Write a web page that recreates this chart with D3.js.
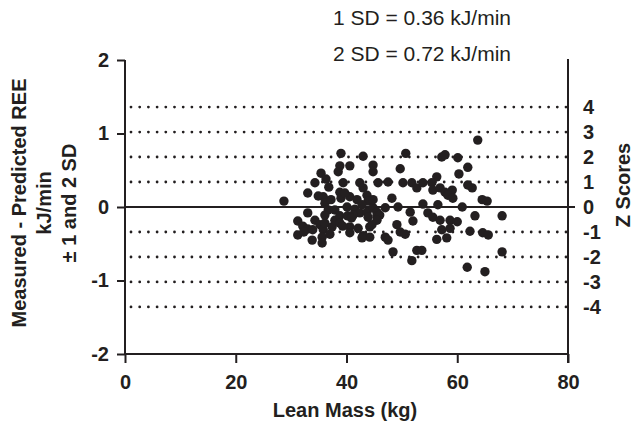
<!DOCTYPE html>
<html lang="en">
<head>
<meta charset="utf-8">
<style>
  body { margin: 0; background: #fff; }
  svg text { font-family: "Liberation Sans", Arial, Helvetica, sans-serif; fill: #231f20; }
  .axis path, .axis line { stroke: #231f20; stroke-width: 2px; }
  .axis text { font-size: 20px; font-weight: bold; fill: #231f20; font-family: "Liberation Sans", Arial, sans-serif; }
</style>
</head>
<body>
<svg width="633" height="422"></svg>
<script src="https://cdn.jsdelivr.net/npm/d3@7"></script>
<script>
// lean mass (kg) vs measured - predicted REE (kJ/min)
var leanMass = [28.7, 39.0, 43.0, 38.8, 40.6, 38.5, 35.4, 44.8, 34.3, 36.3, 36.8, 33.0, 39.4, 38.8, 39.0,
  42.4, 43.0, 43.7, 43.9, 45.7, 35.8, 36.1, 40.6, 36.7, 40.1, 41.5, 42.4, 43.7, 44.8, 45.5,
  37.9, 33.0, 31.2, 32.1, 33.0, 34.3, 35.2, 35.8, 35.6, 35.6, 31.2, 37.4, 37.9, 38.8, 40.2,
  40.6, 40.6, 43.0, 44.2, 44.2, 43.9, 45.5, 33.9, 36.1, 36.1, 41.2, 42.8, 38.8,
  50.7, 57.2, 57.8, 60.1, 63.7, 61.9, 49.7, 44.8, 60.3, 56.3, 47.5, 50.2, 51.8, 52.7, 53.8,
  55.4, 55.6, 56.9, 57.8, 59.1, 58.3, 59.2, 62.7, 64.5, 65.4, 49.3, 53.8, 56.5, 44.8, 46.0,
  45.5, 54.7, 55.6, 56.9, 52.0, 58.7, 60.0, 58.7, 49.1, 49.7, 50.6, 47.0, 47.5, 56.3, 58.1,
  62.3, 64.6, 65.6, 68.1, 48.4, 52.7, 53.6, 51.8, 68.1, 61.8, 65.0, 44.6,
  34.9, 37.2, 39.7, 41.9, 42.8, 40.9, 39.3, 42.1, 33.8, 32.3, 37.0, 47.0, 48.2, 51.5, 60.9,
  63.2, 61.9, 57.2];
var reeDiff = [0.08, 0.73, 0.69, 0.56, 0.56, 0.48, 0.46, 0.48, 0.33, 0.38, 0.27, 0.19, 0.33, 0.20, 0.12,
  0.33, 0.26, 0.16, 0.08, 0.33, 0.14, 0.05, 0.14, -0.04, 0.00, -0.03, -0.08, -0.07, -0.01, -0.07,
  -0.04, -0.08, -0.19, -0.26, -0.30, -0.18, -0.24, -0.31, -0.41, -0.49, -0.38, -0.27, -0.18, -0.12, -0.12,
  -0.27, -0.35, -0.39, -0.41, -0.27, -0.14, -0.12, -0.31, -0.22, -0.11, -0.11, -0.42, -0.22,
  0.73, 0.68, 0.71, 0.67, 0.91, 0.54, 0.52, 0.57, 0.45, 0.41, 0.34, 0.33, 0.33, 0.26, 0.33,
  0.33, 0.23, 0.26, 0.20, 0.23, 0.16, 0.12, 0.26, 0.10, 0.08, 0.00, 0.04, 0.03, 0.10, -0.11,
  -0.18, -0.08, -0.14, -0.18, -0.19, -0.18, -0.20, -0.29, -0.24, -0.34, -0.37, -0.41, -0.45, -0.44, -0.42,
  -0.33, -0.35, -0.38, -0.12, -0.61, -0.59, -0.59, -0.73, -0.61, -0.82, -0.88, -0.24,
  0.15, 0.10, 0.19, 0.10, 0.03, -0.15, -0.26, -0.29, -0.45, -0.34, -0.37, -0.01, 0.12, -0.07, 0.00,
  -0.12, 0.30, -0.31];

var xTicks = [0, 20, 40, 60, 80];
var yTicks = [-2, -1, 0, 1, 2];
var zScores = [4, 3, 2, 1, 0, -1, -2, -3, -4];
var sdSpacing = 0.34;   // spacing of the dotted SD lines as drawn
var notes = ["1 SD = 0.36 kJ/min", "2 SD = 0.72 kJ/min"];

var svg = d3.select("svg");
var plotLeft = 125, plotRight = 568, plotTop = 60, plotBottom = 354;

var x = d3.scaleLinear().domain([0, 80]).range([plotLeft, plotRight]);
var y = d3.scaleLinear().domain([-2, 2]).range([plotBottom, plotTop]);

// dotted SD lines
svg.selectAll(".sdline")
    .data(zScores.filter(function (z) { return z != 0; }))
    .enter()
    .append("line")
    .attr("class", "sdline")
    .attr("x1", plotLeft + 6)
    .attr("x2", plotRight - 2)
    .attr("y1", function (z) { return y(z * sdSpacing); })
    .attr("y2", function (z) { return y(z * sdSpacing); })
    .attr("stroke", "#231f20")
    .attr("stroke-width", 2.8)
    .attr("stroke-linecap", "round")
    .attr("stroke-dasharray", "0,8.7");

// zero line
svg.append("line")
    .attr("x1", plotLeft).attr("x2", plotRight + 7)
    .attr("y1", y(0)).attr("y2", y(0))
    .attr("stroke", "#231f20").attr("stroke-width", 2);

// points
svg.selectAll(".dot")
    .data(leanMass)
    .enter()
    .append("circle")
    .attr("class", "dot")
    .attr("cx", function (d) { return x(d); })
    .attr("cy", function (d, i) { return y(reeDiff[i]); })
    .attr("r", 4.7)
    .attr("fill", "#231f20");

// axes
svg.append("g")
    .attr("class", "axis")
    .attr("transform", "translate(0," + plotBottom + ")")
    .call(d3.axisBottom(x).tickValues(xTicks).tickSize(9).tickSizeOuter(0).tickPadding(12))
    .call(function (g) { g.select(".domain").attr("d", "M" + plotLeft + ",0H" + plotRight); });

svg.append("g")
    .attr("class", "axis")
    .attr("transform", "translate(" + plotLeft + ",0)")
    .call(d3.axisLeft(y).tickValues(yTicks).tickSize(8).tickSizeOuter(0).tickPadding(8)
        .tickFormat(function (d) { return String(d); }))
    .call(function (g) { g.select(".domain").attr("d", "M0," + plotTop + "V" + plotBottom); });

// right axis (no ticks besides the zero line crossing)
svg.append("line")
    .attr("x1", plotRight).attr("x2", plotRight)
    .attr("y1", plotTop - 1).attr("y2", plotBottom + 9)
    .attr("stroke", "#231f20").attr("stroke-width", 2);

svg.selectAll(".zlab")
    .data(zScores)
    .enter()
    .append("text")
    .attr("class", "zlab")
    .attr("x", 583)
    .attr("y", function (z) { return y(z * sdSpacing) + 7; })
    .attr("font-size", 20)
    .attr("font-weight", "bold")
    .text(function (z) { return z; });

// titles
svg.append("text")
    .attr("x", 345).attr("y", 417)
    .attr("text-anchor", "middle")
    .attr("font-size", 20).attr("font-weight", "bold")
    .text("Lean Mass (kg)");

var yTitle = ["Measured - Predicted REE", "kJ/min", "\u00b1 1 and 2 SD"];
svg.selectAll(".ytitle")
    .data(yTitle)
    .enter()
    .append("text")
    .attr("transform", function (d, i) { return "translate(" + (26 + i * 25) + ",203) rotate(-90)"; })
    .attr("text-anchor", "middle")
    .attr("font-size", 20).attr("font-weight", "bold")
    .text(function (d) { return d; });

svg.append("text")
    .attr("transform", "translate(630,185) rotate(-90)")
    .attr("text-anchor", "middle")
    .attr("font-size", 20).attr("font-weight", "bold")
    .text("Z Scores");

svg.selectAll(".note")
    .data(notes)
    .enter()
    .append("text")
    .attr("class", "note")
    .attr("x", 333)
    .attr("y", function (d, i) { return 25 + i * 36; })
    .attr("font-size", 21)
    .text(function (d) { return d; });
</script>
</body>
</html>
